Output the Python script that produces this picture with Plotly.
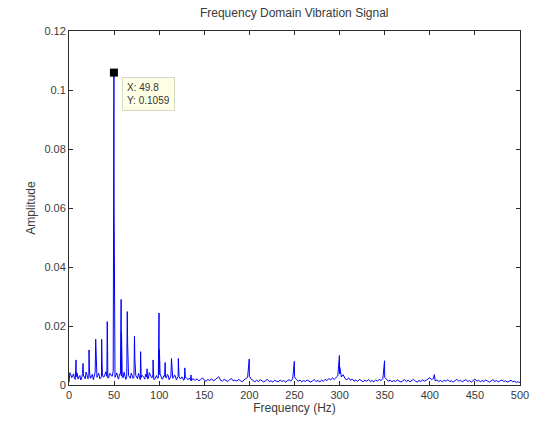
import plotly.graph_objects as go

# Frequency bins of the background spectrum (Hz) and their amplitudes
freq_grid = list(range(0, 501, 2))
noise_amp = [
    0.0010, 0.0035, 0.0030, 0.0022, 0.0028, 0.0020, 0.0032, 0.0024, 0.0030, 0.0021,
    0.0034, 0.0026, 0.0023, 0.0036, 0.0028, 0.0025, 0.0033, 0.0022, 0.0030, 0.0027,
    0.0035, 0.0029, 0.0024, 0.0038, 0.0030, 0.0045, 0.0033, 0.0026, 0.0037, 0.0031,
    0.0024, 0.0034, 0.0028, 0.0032, 0.0023, 0.0030, 0.0026, 0.0033, 0.0021, 0.0029,
    0.0025, 0.0031, 0.0020, 0.0027, 0.0022, 0.0030, 0.0024, 0.0019, 0.0028, 0.0023,
    0.0035, 0.0026, 0.0021, 0.0030, 0.0024, 0.0032, 0.0022, 0.0028, 0.0025, 0.0031,
    0.0023, 0.0029, 0.0021, 0.0026, 0.0019, 0.0024,
    0.0018, 0.0022, 0.0015, 0.0020, 0.0016, 0.0021, 0.0014, 0.0019, 0.0024, 0.0017,
    0.0013, 0.0019, 0.0015, 0.0021, 0.0014, 0.0018, 0.0023, 0.0028, 0.0016, 0.0013,
    0.0019, 0.0015, 0.0012, 0.0018, 0.0022, 0.0014, 0.0017, 0.0013, 0.0019, 0.0015,
    0.0011, 0.0017, 0.0021, 0.0026, 0.0030,
    0.0020, 0.0014, 0.0011, 0.0016, 0.0012, 0.0018, 0.0013, 0.0010, 0.0015, 0.0019,
    0.0012, 0.0014, 0.0010, 0.0016, 0.0013, 0.0011, 0.0017, 0.0012, 0.0015, 0.0010,
    0.0014, 0.0018, 0.0013, 0.0021, 0.0028, 0.0019, 0.0013, 0.0016, 0.0011, 0.0015,
    0.0012, 0.0017, 0.0013, 0.0010, 0.0014, 0.0018, 0.0012, 0.0015, 0.0011, 0.0016,
    0.0013, 0.0019, 0.0015, 0.0022, 0.0017, 0.0024, 0.0019, 0.0026, 0.0031, 0.0038,
    0.0027, 0.0035, 0.0022, 0.0018, 0.0024, 0.0016, 0.0020, 0.0013, 0.0017, 0.0012,
    0.0019, 0.0014, 0.0011, 0.0016, 0.0013, 0.0018, 0.0012, 0.0015, 0.0011, 0.0017,
    0.0013, 0.0019, 0.0015, 0.0022, 0.0026, 0.0018, 0.0013, 0.0016, 0.0011, 0.0015,
    0.0012, 0.0017, 0.0013, 0.0010, 0.0014, 0.0018, 0.0012, 0.0016, 0.0011, 0.0014,
    0.0019, 0.0013, 0.0010, 0.0015, 0.0012, 0.0017, 0.0013, 0.0016, 0.0021, 0.0025,
    0.0018, 0.0022, 0.0014, 0.0017, 0.0012, 0.0015, 0.0011, 0.0016, 0.0013, 0.0018,
    0.0012, 0.0014, 0.0010, 0.0015, 0.0019, 0.0013, 0.0016, 0.0011, 0.0014, 0.0018,
    0.0012, 0.0015, 0.0010, 0.0014, 0.0020, 0.0013, 0.0016, 0.0011, 0.0015, 0.0012,
    0.0017, 0.0013, 0.0010, 0.0014, 0.0018, 0.0012, 0.0015, 0.0011, 0.0013, 0.0017,
    0.0012, 0.0014, 0.0010, 0.0013, 0.0016, 0.0011, 0.0013, 0.0009, 0.0011, 0.0008,
]

# Extra low-frequency bins (odd Hz, 1..139) where the floor is denser
freq_low_odd = list(range(1, 140, 2))
noise_low_odd = [
    0.0042, 0.0025, 0.0038, 0.0019, 0.0041, 0.0027, 0.0017, 0.0039, 0.0029, 0.0044,
    0.0021, 0.0036, 0.0030, 0.0018, 0.0043, 0.0026, 0.0040, 0.0022, 0.0037, 0.0028,
    0.0045, 0.0024, 0.0039, 0.0031, 0.0047, 0.0026, 0.0041, 0.0020, 0.0038, 0.0027,
    0.0043, 0.0019, 0.0036, 0.0029, 0.0040, 0.0022, 0.0034, 0.0025, 0.0039, 0.0018,
    0.0033, 0.0026, 0.0037, 0.0021, 0.0042, 0.0028, 0.0035, 0.0019, 0.0032, 0.0024,
    0.0038, 0.0020, 0.0031, 0.0026, 0.0036, 0.0018, 0.0030, 0.0023, 0.0034, 0.0017,
    0.0029, 0.0022, 0.0027, 0.0016, 0.0025, 0.0019, 0.0023, 0.0015, 0.0021, 0.0017,
]

# Spectral peaks (Hz, amplitude)
peak_freq = [7.8, 8.2, 15.6, 22.2, 22.6, 29.6, 30.0, 36.2, 36.6, 42.4, 42.8,
             49.8, 50.0, 57.8, 58.2, 64.6, 65.0, 72.6, 73.0, 79.4, 79.8, 86.6,
             93.2, 99.8, 100.2, 106.6, 113.6, 114.0, 121.2, 121.6, 128.4, 135.2,
             199.8, 249.8, 299.8, 300.2, 349.8, 405.0]
peak_amp = [0.0085, 0.0040, 0.0073, 0.0119, 0.0060, 0.0155, 0.0080, 0.0155, 0.0090, 0.0215, 0.0120,
            0.1059, 0.0620, 0.0290, 0.0180, 0.0249, 0.0140, 0.0166, 0.0090, 0.0113, 0.0060, 0.0055,
            0.0085, 0.0244, 0.0120, 0.0076, 0.0090, 0.0050, 0.0090, 0.0050, 0.0058, 0.0034,
            0.0088, 0.0080, 0.0100, 0.0060, 0.0082, 0.0035]

# Data tip
tip_x = 49.8
tip_y = 0.1059

spec = {float(f): a for f, a in zip(freq_grid, noise_amp)}
for f, a in zip(freq_low_odd, noise_low_odd):
    spec[float(f)] = a
for f, a in zip(peak_freq, peak_amp):
    spec[float(f)] = a
freqs = sorted(spec)
amps = [spec[f] for f in freqs]

font_family = "Liberation Sans, Arial, sans-serif"
axis_color = "#2b2b2b"
text_color = "#3a3a3a"

fig = go.Figure()
fig.add_trace(go.Scatter(x=freqs, y=amps, mode="lines",
                         line=dict(color="#0000ff", width=1), showlegend=False))
fig.add_trace(go.Scatter(x=[tip_x], y=[tip_y], mode="markers",
                         marker=dict(symbol="square", size=8, color="black"),
                         showlegend=False))
fig.add_annotation(x=59, y=0.1044, xref="x", yref="y", xanchor="left", yanchor="top",
                   text=f"X: {tip_x}<br>Y: {tip_y}", showarrow=False, align="left",
                   bgcolor="#ffffe6", bordercolor="#d8d8c8", borderwidth=1, borderpad=4,
                   font=dict(family=font_family, size=10, color="#333"))

fig.update_layout(
    width=534, height=423,
    margin=dict(l=69, r=14, t=31, b=38),
    paper_bgcolor="white", plot_bgcolor="white",
    font=dict(family=font_family, size=11, color=text_color),
    title=dict(text="Frequency Domain Vibration Signal", x=0.551, xanchor="center",
               y=0.969, yanchor="middle", font=dict(size=12, color=text_color)),
    xaxis=dict(range=[0, 500], tickvals=[0, 50, 100, 150, 200, 250, 300, 350, 400, 450, 500],
               ticks="inside", ticklen=4, tickcolor=axis_color, showline=True,
               linecolor=axis_color, linewidth=1, mirror="ticks", showgrid=False, zeroline=False,
               automargin=False,
               title=dict(text="Frequency (Hz)", standoff=0, font=dict(size=12))),
    yaxis=dict(range=[0, 0.12], tickvals=[0, 0.02, 0.04, 0.06, 0.08, 0.1, 0.12],
               ticks="inside", ticklen=4, tickcolor=axis_color, showline=True,
               linecolor=axis_color, linewidth=1, mirror="ticks", showgrid=False, zeroline=False,
               automargin=False,
               title=dict(text="Amplitude", standoff=6, font=dict(size=12))),
)

fig.write_html("out.html", config={"displayModeBar": False},
               post_script="document.body.style.margin='0';document.body.style.overflow='hidden';")
